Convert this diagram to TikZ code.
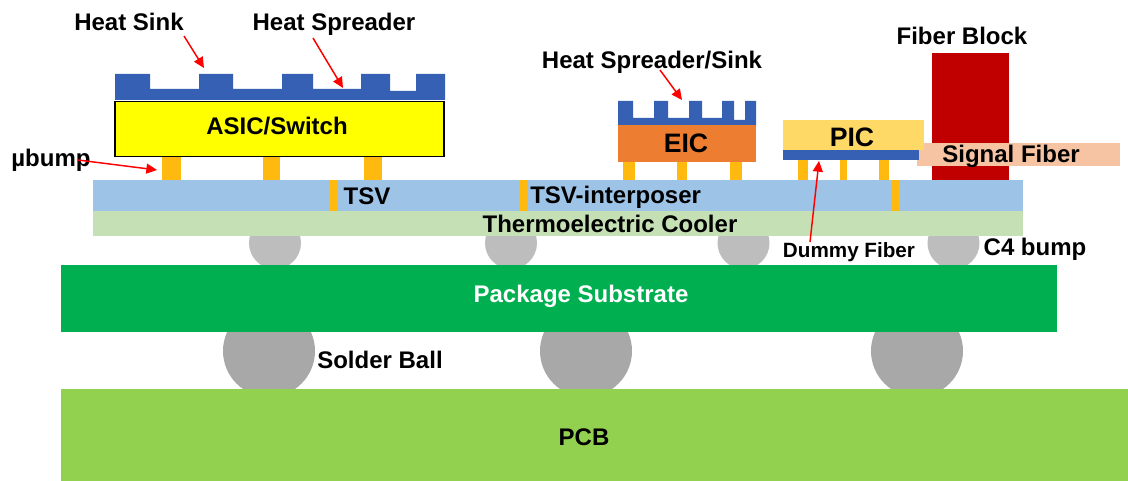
\documentclass[tikz,border=0pt]{standalone}
\usepackage{fontspec}
\setmainfont{Liberation Sans}
\usetikzlibrary{arrows.meta}
\definecolor{sinkblue}{HTML}{3660B4}
\definecolor{asic}{HTML}{FFFF00}
\definecolor{bumpor}{HTML}{FFB90F}
\definecolor{interp}{HTML}{9DC3E6}
\definecolor{tec}{HTML}{C5E0B4}
\definecolor{cfour}{HTML}{BDBDBD}
\definecolor{subst}{HTML}{00B050}
\definecolor{ball}{HTML}{A8A8A8}
\definecolor{pcb}{HTML}{92D050}
\definecolor{eic}{HTML}{ED7D31}
\definecolor{pic}{HTML}{FFD966}
\definecolor{block}{HTML}{C00000}
\definecolor{sfiber}{HTML}{F6C4A3}
\tikzset{
  x=0.75pt,y=-0.75pt,
  lbl/.style={font=\bfseries\fontsize{18}{20}\selectfont,text=black,inner sep=0pt},
  smalllbl/.style={font=\bfseries\fontsize{15.5}{18}\selectfont,text=black,inner sep=0pt},
  biglbl/.style={font=\bfseries\fontsize{20}{22}\selectfont,text=black,inner sep=0pt},
  ptr/.style={red,line width=1.1pt,-{Triangle[length=8pt,width=7.5pt]}},
}
\begin{document}
\begin{tikzpicture}
\useasboundingbox (0,0) rectangle (1128,481);
\fill[white] (0,0) rectangle (1128,481);
% solder balls, PCB
\foreach \c in {269,586,917}{\fill[ball] (\c,351) circle (46);}
\fill[pcb] (61,389) rectangle (1128,481);
\node[lbl] (pcblabel) at (584,437) {PCB};
% C4 bumps
\foreach \c in {275,511,743.5,953.5}{\fill[cfour] (\c,243) circle (26);}
% substrate
\fill[subst] (61,264.5) rectangle (1057,332);
\node[lbl,text=white] (substlabel) at (581,296) {Package Substrate};
\node[lbl] (solder) at (380,360) {Solder Ball};
% interposer + TEC
\fill[interp] (93,180) rectangle (1023,211);
\fill[tec] (93,211) rectangle (1023,236);
\fill[bumpor] (330,180) rectangle (337,211);
\fill[bumpor] (519,180) rectangle (527,211);
\fill[bumpor] (892,180) rectangle (899,211);
\node[lbl] (tsv) at (367,196) {TSV};
\node[lbl,anchor=west] (tsvi) at (530,197) {TSV-interposer};
\node[lbl] (tecl) at (610,224) {Thermoelectric Cooler};
% ASIC
\foreach \a/\b in {162/181,263/280,364/382}{\fill[bumpor] (\a,157) rectangle (\b,180);}
\fill[sinkblue] (115,74) -- (150,74) -- (150,89) -- (199,89) -- (199,74) -- (233,74) -- (233,89) -- (282,89) -- (282,74) -- (313,74) -- (313,89) -- (361,89) -- (361,74) -- (390,74) -- (390,91) -- (416,91) -- (416,74) -- (445,74) -- (445,100) -- (115,100) -- cycle;
\draw[black,line width=1.1pt,fill=asic] (115,101.5) rectangle (444,156.5);
\node[lbl] (asiclabel) at (277,126) {ASIC/Switch};
% EIC
\foreach \a/\b in {622.5/635,677/687,730/742}{\fill[bumpor] (\a,160) rectangle (\b,180);}
\fill[sinkblue] (618,101) -- (633,101) -- (633,118) -- (654,118) -- (654,101) -- (668,101) -- (668,118) -- (689,118) -- (689,101) -- (702,101) -- (702,118) -- (722,118) -- (722,101) -- (734,101) -- (734,120) -- (745,120) -- (745,101) -- (756,101) -- (756,125) -- (618,125) -- cycle;
\fill[eic] (618,125) rectangle (756,162);
\node[biglbl] (eiclabel) at (686,143) {EIC};
% fiber block and signal fiber
\fill[block] (932,53) rectangle (1009,180);
\fill[sfiber] (917,143) rectangle (1120,166);
\node[lbl] (fiberlabel) at (1011,156) {Signal Fiber};
\node[lbl] (blocklabel) at (962,36) {Fiber Block};
% PIC
\foreach \a/\b in {798/808,839.5/847,879/889}{\fill[bumpor] (\a,160) rectangle (\b,180);}
\fill[pic] (782.5,120) rectangle (924,150);
\fill[sinkblue] (782.5,150) rectangle (919,160.5);
\node[biglbl] (piclabel) at (852,137) {PIC};
% labels
\node[lbl] (hs) at (129,22) {Heat Sink};
\node[lbl] (hsp) at (334,24) {Heat Spreader};
\node[lbl] (hss) at (652,62) {Heat Spreader/Sink};
\node[lbl] (ub) at (51,160) {µbump};
\node[smalllbl] (df) at (849,252) {Dummy Fiber};
\node[lbl] (c4) at (1035,249) {C4 bump};
% pointers
\coordinate (s1) at (184,36);
\coordinate (s2) at (313,38);
\coordinate (s3) at (660,70);
\coordinate (s4) at (78,160);
\coordinate (s5) at (810,242);
\coordinate (p1) at (204,68);
\coordinate (p2) at (343,88);
\coordinate (p3) at (682,100);
\coordinate (p4) at (157,170);
\coordinate (p5) at (819,161);
\draw[ptr] (s1) -- (p1);
\draw[ptr] (s2) -- (p2);
\draw[ptr] (s3) -- (p3);
\draw[ptr] (s4) -- (p4);
\draw[ptr] (s5) -- (p5);
\end{tikzpicture}
\end{document}
